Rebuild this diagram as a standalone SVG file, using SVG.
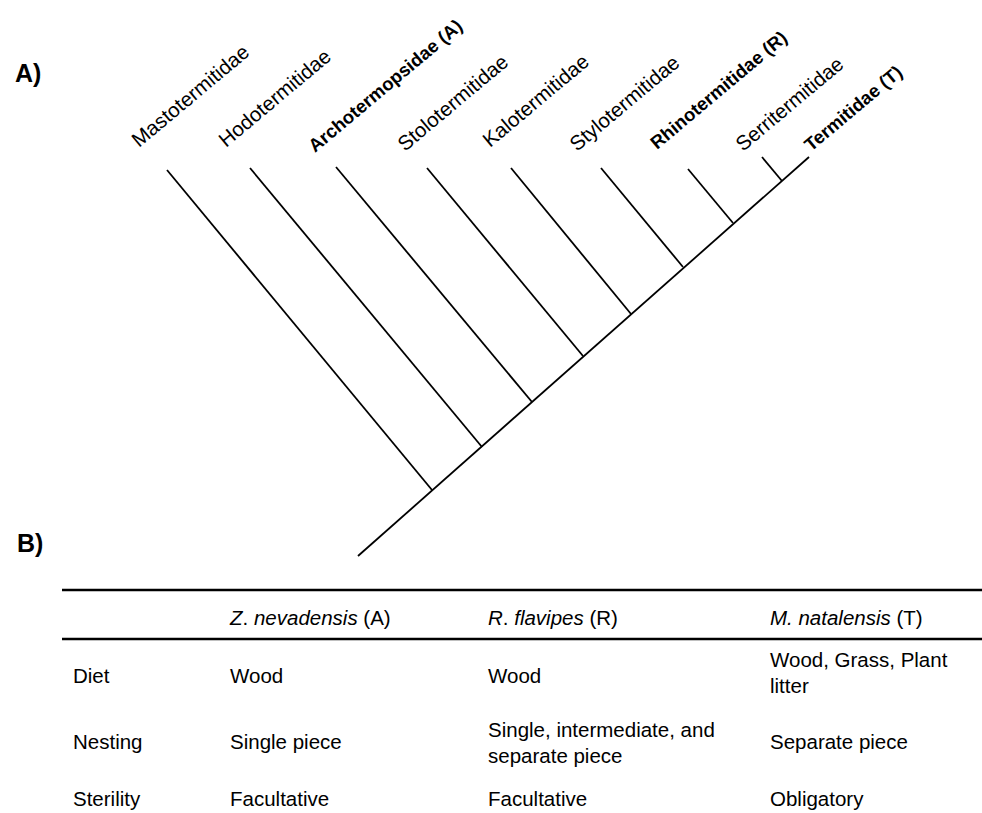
<svg xmlns="http://www.w3.org/2000/svg" width="982" height="813" viewBox="0 0 982 813">
<style>
  text { font-family: "Liberation Sans", Arial, sans-serif; fill: #000; }
  .panel { font-size: 25px; font-weight: bold; }
  .lab { font-size: 20.5px; }
  .labb { font-size: 18.5px; font-weight: bold; }
  .cell { font-size: 20.5px; }
  .it { font-style: italic; }
  .br { stroke: #000; stroke-width: 1.8; fill: none; stroke-linecap: butt; }
  .rule { stroke: #000; stroke-width: 2.5; }
</style>
<rect width="982" height="813" fill="#fff"/>
<text class="panel" x="15" y="82">A)</text>
<text class="panel" x="17" y="552">B)</text>

<g id="connectors">
  <line class="br" x1="358" y1="556" x2="809" y2="157"/>
  <line class="br" x1="167" y1="170" x2="432" y2="490"/>
  <line class="br" x1="250" y1="168" x2="482" y2="447"/>
  <line class="br" x1="336" y1="167" x2="532" y2="402"/>
  <line class="br" x1="427" y1="168" x2="583" y2="356"/>
  <line class="br" x1="511" y1="168" x2="631" y2="314"/>
  <line class="br" x1="601" y1="168" x2="683" y2="267"/>
  <line class="br" x1="688" y1="169" x2="733" y2="223"/>
  <line class="br" x1="762" y1="157" x2="782" y2="181"/>
</g>

<g id="mastotermitidae"><text class="lab" transform="translate(139,148) rotate(-40)">Mastotermitidae</text></g>
<g id="hodotermitidae"><text class="lab" transform="translate(226,148) rotate(-40)">Hodotermitidae</text></g>
<g id="archotermopsidae"><text class="labb" transform="translate(315,153) rotate(-40)">Archotermopsidae (A)</text></g>
<g id="stolotermitidae"><text class="lab" transform="translate(405,152) rotate(-40)">Stolotermitidae</text></g>
<g id="kalotermitidae"><text class="lab" transform="translate(490,148) rotate(-40)">Kalotermitidae</text></g>
<g id="stylotermitidae"><text class="lab" transform="translate(577,152) rotate(-40)">Stylotermitidae</text></g>
<g id="rhinotermitidae"><text class="labb" transform="translate(657,150) rotate(-40)">Rhinotermitidae (R)</text></g>
<g id="serritermitidae"><text class="lab" transform="translate(743,152) rotate(-40)">Serritermitidae</text></g>
<g id="termitidae"><text class="labb" transform="translate(811,152) rotate(-40)">Termitidae (T)</text></g>

<g id="table">
  <line class="rule" x1="62" y1="590" x2="982" y2="590"/>
  <line class="rule" x1="62" y1="639" x2="982" y2="639"/>
  <text class="cell" x="230" y="625"><tspan class="it">Z</tspan>. <tspan class="it">nevadensis</tspan> (A)</text>
  <text class="cell" x="488" y="625"><tspan class="it">R</tspan>. <tspan class="it">flavipes</tspan> (R)</text>
  <text class="cell" x="770" y="625"><tspan class="it">M. natalensis</tspan> (T)</text>

  <text class="cell" x="73" y="683">Diet</text>
  <text class="cell" x="230" y="683">Wood</text>
  <text class="cell" x="488" y="683">Wood</text>
  <text class="cell" x="770" y="667">Wood, Grass, Plant</text>
  <text class="cell" x="770" y="693">litter</text>

  <text class="cell" x="73" y="749">Nesting</text>
  <text class="cell" x="230" y="749">Single piece</text>
  <text class="cell" x="488" y="737">Single, intermediate, and</text>
  <text class="cell" x="488" y="763">separate piece</text>
  <text class="cell" x="770" y="749">Separate piece</text>

  <text class="cell" x="73" y="806">Sterility</text>
  <text class="cell" x="230" y="806">Facultative</text>
  <text class="cell" x="488" y="806">Facultative</text>
  <text class="cell" x="770" y="806">Obligatory</text>
</g>
</svg>
